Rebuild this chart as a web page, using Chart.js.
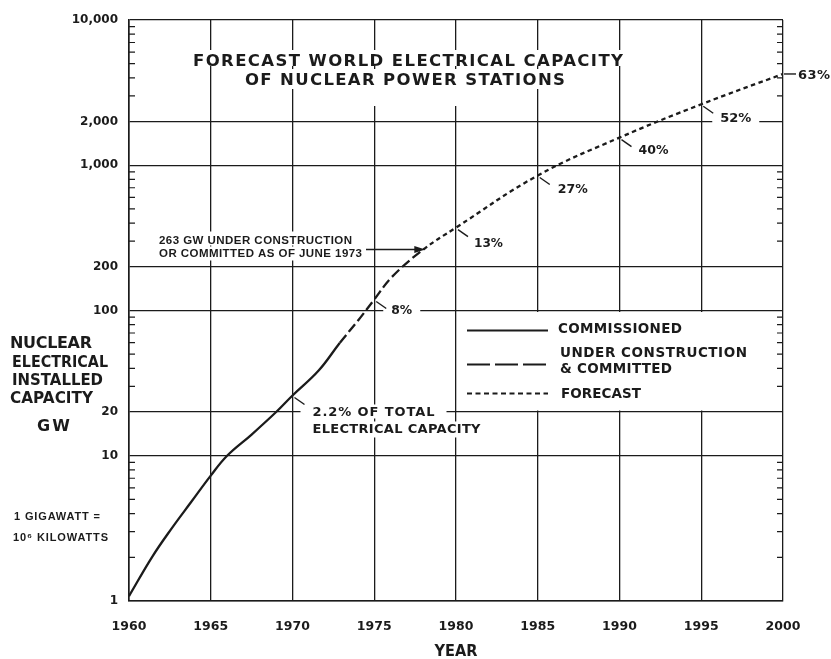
<!DOCTYPE html>
<html><head><meta charset="utf-8">
<script src="https://cdn.jsdelivr.net/npm/chart.js@4.4.1/dist/chart.umd.min.js"></script>
<style>html,body{margin:0;padding:0;background:#fff}#wrap{width:831px;height:659px}</style>
</head><body><div id="wrap"><canvas id="c" width="831" height="659"></canvas></div>
<script>
// ---- data ----
const commissionedYear = [1960, 1961.4, 1962.6, 1963.8, 1965, 1966, 1967.5, 1969, 1970, 1971.6, 1972.9];
const commissionedGW   = [1.08, 2.0, 3.15, 4.8, 7.3, 10, 14.0, 20, 26, 38.6, 60];
const constructionYear = [1972.9, 1974, 1975, 1976.1, 1978];
const constructionGW   = [60, 85, 119, 171, 263];
const forecastYear     = [1978, 1980, 1985, 1990, 1995, 2000];
const forecastGW       = [263, 372, 850, 1550, 2630, 4250];
const shareYears  = [1970, 1975, 1980, 1985, 1990, 1995, 2000];
const shareLabels = ['2.2%', '8%', '13%', '27%', '40%', '52%', '63%'];
const xTickYears  = [1960, 1965, 1970, 1975, 1980, 1985, 1990, 1995, 2000];
const yTickValues = [1, 10, 20, 100, 200, 1000, 2000, 10000];
const yTickLabels = ['1', '10', '20', '100', '200', '1,000', '2,000', '10,000'];
const yMinorTicks = [2,3,4,5,6,7,8,9,30,40,50,60,70,80,90,300,400,500,600,700,800,900,3000,4000,5000,6000,7000,8000,9000];

const INK = '#1b1b1b';
const DJ = '"DejaVu Sans", sans-serif';
const LIB = '"Liberation Sans", Arial, sans-serif';

// one continuous path, styled per segment
const allYear = commissionedYear.concat(constructionYear.slice(1), forecastYear.slice(1));
const allGW   = commissionedGW.concat(constructionGW.slice(1), forecastGW.slice(1));
const constructionStart = constructionYear[0];
const forecastStart = forecastYear[0];

function capText(ctx, t) {
  ctx.save();
  ctx.font = (t.weight || 'bold') + ' ' + t.size + 'px ' + (t.family || DJ);
  ctx.letterSpacing = '0px';
  const nat = ctx.measureText(t.text).width;
  const n = [...t.text].length;
  let ls = 0, sx = 1;
  const w = t.w || nat;
  if (t.w) {
    ls = n > 1 ? (t.w - nat) / (n - 1) : 0;
    if (ls < -0.4) { ls = 0; sx = t.w / nat; }
  }
  ctx.letterSpacing = ls + 'px';
  const left = t.align === 'center' ? t.x - w / 2 : (t.align === 'right' ? t.x - w : t.x);
  ctx.translate(left, t.cy + 0.364 * t.size);
  ctx.scale(sx, 1);
  ctx.textAlign = 'left';
  ctx.textBaseline = 'alphabetic';
  ctx.fillStyle = INK;
  ctx.fillText(t.text, 0, 0);
  ctx.restore();
}
function boxOf(t) {
  const left = t.align === 'center' ? t.x - t.w / 2 : (t.align === 'right' ? t.x - t.w : t.x);
  return {l: left, r: left + t.w, cy: t.cy};
}

function pointAt(chart, year) {
  const i = allYear.indexOf(year);
  const el = chart.getDatasetMeta(0).data[i];
  return {x: el.x, y: el.y};
}

function items(chart) {
  const xs = chart.scales.x, ys = chart.scales.y;
  const list = [];
  list.push({text: 'FORECAST WORLD ELECTRICAL CAPACITY', x: 408, cy: 60, w: 430, size: 16.5, align: 'center', mask: [8, 10, 6]});
  list.push({text: 'OF NUCLEAR POWER STATIONS', x: 405, cy: 79, w: 320, size: 16.5, align: 'center', mask: [8, 10, 10]});
  const p78 = pointAt(chart, 1978);
  list.push({text: '263 GW UNDER CONSTRUCTION', x: 159, cy: p78.y - 10, w: 193, size: 11.5, family: LIB, mask: [6, 8, 6]});
  list.push({text: 'OR COMMITTED AS OF JUNE 1973', x: 159, cy: p78.y + 3, w: 203, size: 11.5, family: LIB, mask: [6, 6, 8]});
  const offs = {1970: [20, 16], 1975: [17, 10], 1980: [18, 15], 1985: [20, 13], 1990: [19, 12], 1995: [19, 13]};
  const widths = {'2.2%': 36, '8%': 21, '13%': 29, '27%': 30, '40%': 30, '52%': 31, '63%': 32};
  shareYears.forEach((yr, i) => {
    const p = pointAt(chart, yr);
    const lab = shareLabels[i];
    if (yr === 2000) {
      list.push({text: lab, x: xs.right + 15, cy: p.y, w: widths[lab], size: 13, leader: [xs.right + 1, p.y, xs.right + 13, p.y]});
    } else if (yr === 1970) {
      list.push({text: lab + ' OF TOTAL', x: p.x + offs[yr][0], cy: p.y + offs[yr][1], w: 122, size: 13, mask: [12, 7, 7],
        leader: [p.x + 2, p.y + 2, p.x + 12, p.y + 9]});
      list.push({text: 'ELECTRICAL CAPACITY', x: p.x + offs[yr][0], cy: p.y + offs[yr][1] + 17, w: 168, size: 13, mask: [8, 7, 9]});
    } else {
      list.push({text: lab, x: p.x + offs[yr][0], cy: p.y + offs[yr][1], w: widths[lab], size: 13, mask: [8, 7, 7],
        leader: [p.x + 2, p.y + 2, p.x + 12, p.y + 9]});
    }
  });
  list.push({text: 'NUCLEAR', x: 10, cy: 342, w: 82, size: 16});
  list.push({text: 'ELECTRICAL', x: 12, cy: 361, w: 96, size: 16});
  list.push({text: 'INSTALLED', x: 12, cy: 379, w: 91, size: 16});
  list.push({text: 'CAPACITY', x: 10, cy: 397, w: 83, size: 16});
  list.push({text: 'GW', x: 37, cy: 425, w: 33, size: 16});
  list.push({text: '1 GIGAWATT =', x: 14, cy: 516, w: 86, size: 11, family: LIB});
  list.push({text: '10\u2076 KILOWATTS', x: 13, cy: 537, w: 95, size: 11, family: LIB});
  list.push({text: 'YEAR', x: (xs.left + xs.right) / 2, cy: 651, w: 43, size: 15, align: 'center'});
  const y100 = ys.getPixelForValue(100), x80 = xs.getPixelForValue(1980);
  list.push({text: 'COMMISSIONED', x: x80 + 102, cy: y100 + 18, w: 124, size: 13.5});
  list.push({text: 'UNDER CONSTRUCTION', x: x80 + 104, cy: y100 + 42, w: 187, size: 13.5});
  list.push({text: '& COMMITTED', x: x80 + 104, cy: y100 + 58, w: 112, size: 13.5});
  list.push({text: 'FORECAST', x: x80 + 105, cy: y100 + 83, w: 80, size: 13.5});
  return list;
}

const annot = {
  id: 'annot',
  beforeDatasetsDraw(chart) {
    const ctx = chart.ctx, xs = chart.scales.x, ys = chart.scales.y;
    ctx.save();
    ctx.fillStyle = '#ffffff';
    items(chart).forEach(t => {
      if (!t.mask) return;
      const b = boxOf(t);
      const [px, up, down] = t.mask;
      ctx.fillRect(b.l - px, b.cy - up, (b.r - b.l) + 2 * px, up + down);
    });
    ctx.fillRect(365, 88, 105, 18);
    const x80 = xs.getPixelForValue(1980), x00 = xs.getPixelForValue(2000);
    const y100 = ys.getPixelForValue(100), y20 = ys.getPixelForValue(20);
    ctx.fillRect(x80 + 1.5, y100 + 1.5, x00 - x80 - 3, y20 - y100 - 3);
    ctx.restore();
  },
  afterDatasetsDraw(chart) {
    const ctx = chart.ctx, xs = chart.scales.x, ys = chart.scales.y;
    ctx.save();
    ctx.strokeStyle = INK; ctx.lineWidth = 1.2;
    yMinorTicks.forEach(v => {
      const y = ys.getPixelForValue(v);
      ctx.beginPath();
      ctx.moveTo(xs.left, y); ctx.lineTo(xs.left + 6, y);
      ctx.moveTo(xs.right, y); ctx.lineTo(xs.right - 6, y);
      ctx.stroke();
    });
    const list = items(chart);
    ctx.lineWidth = 1.4;
    list.forEach(t => {
      if (t.leader) {
        ctx.beginPath(); ctx.moveTo(t.leader[0], t.leader[1]); ctx.lineTo(t.leader[2], t.leader[3]); ctx.stroke();
      }
      capText(ctx, t);
    });
    const p78 = pointAt(chart, 1978);
    ctx.lineWidth = 1.4;
    ctx.beginPath(); ctx.moveTo(366, p78.y); ctx.lineTo(p78.x - 6, p78.y); ctx.stroke();
    ctx.fillStyle = INK;
    ctx.beginPath(); ctx.moveTo(p78.x + 2, p78.y); ctx.lineTo(p78.x - 9, p78.y - 3.5); ctx.lineTo(p78.x - 9, p78.y + 3.5); ctx.closePath(); ctx.fill();
    const x80 = xs.getPixelForValue(1980), y100 = ys.getPixelForValue(100);
    const rows = [[20, []], [54, [23, 5]], [83, [5, 3.5]]];
    ctx.lineWidth = 2.2;
    rows.forEach(r => {
      ctx.setLineDash(r[1]);
      ctx.beginPath(); ctx.moveTo(x80 + 11, y100 + r[0]); ctx.lineTo(x80 + 92, y100 + r[0]); ctx.stroke();
    });
    ctx.setLineDash([]);
    ctx.restore();
  }
};

new Chart(document.getElementById('c'), {
  type: 'line',
  data: {
    datasets: [{
      label: 'Nuclear capacity (GW)',
      data: allYear.map((x, i) => ({x: x, y: allGW[i]})),
      borderColor: INK, borderWidth: 2.3, pointRadius: 0, tension: 0.4, fill: false,
      segment: {
        borderDash: c => c.p0.parsed.x >= forecastStart ? [4.5, 3.5] : (c.p0.parsed.x >= constructionStart ? [10, 4] : [])
      }
    }]
  },
  options: {
    responsive: false,
    animation: false,
    events: [],
    layout: {padding: {top: 20, right: 48, left: 0, bottom: 0}},
    plugins: {legend: {display: false}, tooltip: {enabled: false}, title: {display: false}},
    scales: {
      x: {
        type: 'linear', min: 1960, max: 2000,
        afterBuildTicks: s => { s.ticks = xTickYears.map(v => ({value: v})); },
        afterFit: s => { s.height = 58; },
        ticks: {callback: v => String(v), font: {family: 'DejaVu Sans', size: 12.5, weight: 'bold'}, color: INK,
                padding: 18, maxRotation: 0, autoSkip: false},
        grid: {color: INK, lineWidth: 1.3, drawTicks: false},
        border: {color: INK, width: 1.6}
      },
      y: {
        type: 'logarithmic', min: 1, max: 10000,
        afterBuildTicks: s => { s.ticks = yTickValues.map(v => ({value: v})); },
        afterFit: s => { s.width = 129; },
        ticks: {callback: v => { const i = yTickValues.indexOf(v); return i >= 0 ? yTickLabels[i] : ''; },
                font: {family: 'DejaVu Sans', size: 12, weight: 'bold'}, color: INK, padding: 11, autoSkip: false},
        grid: {color: INK, lineWidth: 1.3, drawTicks: false},
        border: {color: INK, width: 1.6}
      }
    }
  },
  plugins: [annot]
});
</script>
</body></html>
